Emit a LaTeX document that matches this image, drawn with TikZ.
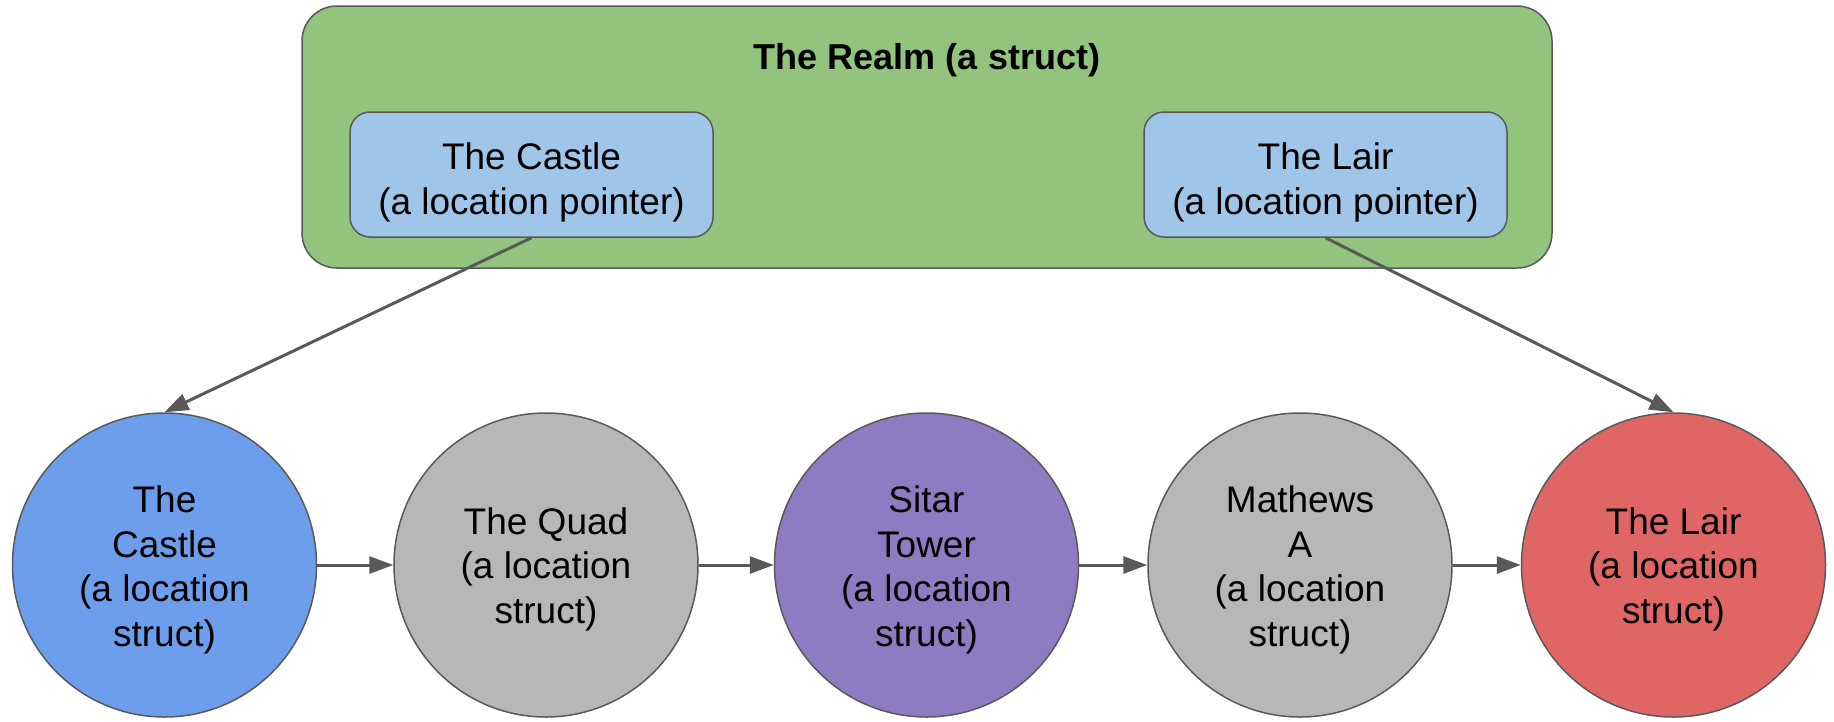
\documentclass[tikz,border=0pt]{standalone}
\usepackage{fontspec}
\setmainfont{Liberation Sans}
\usetikzlibrary{arrows.meta}
\definecolor{realmgreen}{HTML}{93C47D}
\definecolor{ptrblue}{HTML}{9FC5E8}
\definecolor{castleblue}{HTML}{6D9EEB}
\definecolor{locgray}{HTML}{B7B7B7}
\definecolor{sitarpurple}{HTML}{8E7CC3}
\definecolor{lairred}{HTML}{E06666}
\definecolor{edgegray}{HTML}{595959}
\tikzset{
  every node/.style={font=\fontsize{37}{44.5}\selectfont, align=center},
  realmbox/.style={draw=edgegray, fill=realmgreen, line width=1.5pt, rounded corners=35pt},
  ptrbox/.style={draw=edgegray, fill=ptrblue, line width=1.5pt, rounded corners=20pt,
    minimum width=363pt, minimum height=125pt, inner sep=0pt},
  locnode/.style={circle, draw=edgegray, line width=1.5pt, minimum size=304pt, inner sep=0pt},
  txt3/.style={yshift=-4pt, inner sep=0pt},
  txt4/.style={yshift=-5pt, inner sep=0pt},
  ptrtxt/.style={yshift=-8pt, inner sep=0pt},
  arr/.style={draw=edgegray, line width=3pt, -{Triangle[length=24pt,width=17pt]}},
}
\begin{document}
\begin{tikzpicture}[x=1pt,y=-1pt]
\useasboundingbox (0,0) rectangle (1834,721);
\draw[realmbox] (302,6) rectangle (1552,268);
\node[font=\fontsize{36}{44.5}\selectfont\bfseries] (title) at (927,60) {The Realm (a struct)};
\node[ptrbox, label={[ptrtxt, name=pct]center:{The Castle\\(a location pointer)}}] (pc) at (531.5,174.5) {};
\node[ptrbox, label={[ptrtxt, name=plt]center:{The Lair\\(a location pointer)}}] (pl) at (1325.5,174.5) {};
\node[locnode, fill=castleblue, label={[txt4, name=c1t]center:{The\\Castle\\(a location\\struct)}}] (c1) at (164.5,565) {};
\node[locnode, fill=locgray, label={[txt3, name=c2t]center:{The Quad\\(a location\\struct)}}] (c2) at (546,565) {};
\node[locnode, fill=sitarpurple, label={[txt4, name=c3t]center:{Sitar\\Tower\\(a location\\struct)}}] (c3) at (926.5,565) {};
\node[locnode, fill=locgray, label={[txt4, name=c4t]center:{Mathews\\A\\(a location\\struct)}}] (c4) at (1300,565) {};
\node[locnode, fill=lairred, label={[txt3, name=c5t]center:{The Lair\\(a location\\struct)}}] (c5) at (1673.5,565) {};
\draw[arr] (c1.east) -- (c2.west);
\draw[arr] (c2.east) -- (c3.west);
\draw[arr] (c3.east) -- (c4.west);
\draw[arr] (c4.east) -- (c5.west);
\draw[arr] (pc.south) -- (c1.north);
\draw[arr] (pl.south) -- (c5.north);
\end{tikzpicture}
\end{document}
